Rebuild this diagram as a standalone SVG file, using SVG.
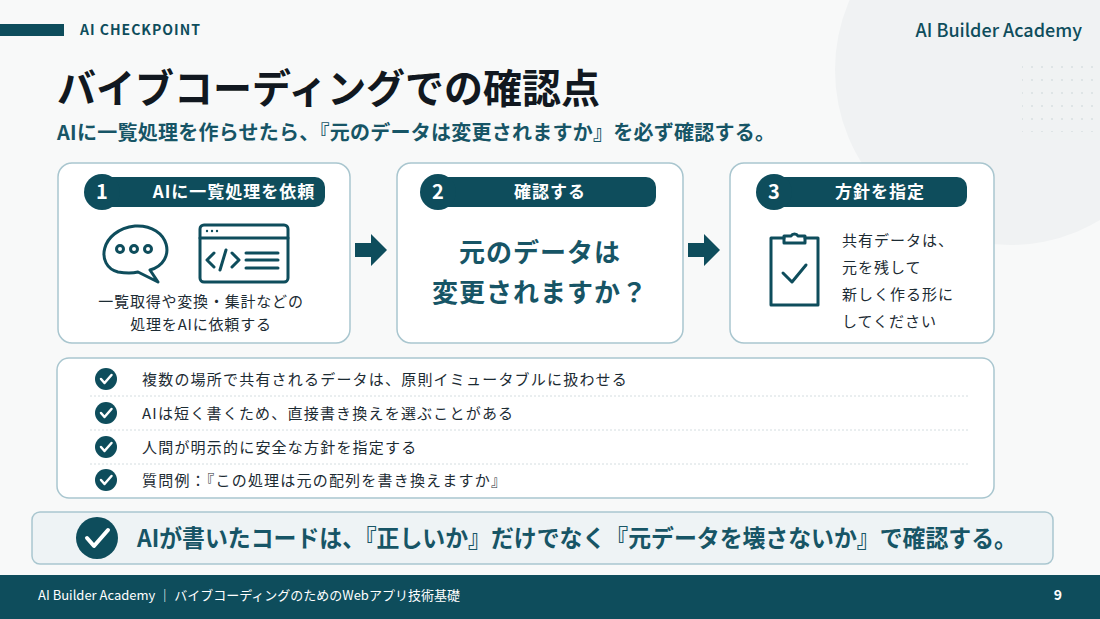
<svg xmlns="http://www.w3.org/2000/svg" width="1100" height="619" viewBox="0 0 1100 619">
<defs>
<style>
text{font-family:"Noto Sans CJK JP","Noto Sans",sans-serif}
.card{fill:#fff;stroke:#a9c6cf;stroke-width:1.5}
.teal{fill:#0e4d5c}
.hd{fill:#fff;font-size:17px;font-weight:bold;text-anchor:middle;letter-spacing:1px}
.num{fill:#fff;font-size:20px;font-weight:bold;text-anchor:middle}
.ic{fill:none;stroke:#0e4d5c;stroke-width:3;stroke-linecap:round;stroke-linejoin:round}
.body{fill:#1c2b33;font-size:15px}
.sep{stroke:#d4dde0;stroke-width:1;stroke-dasharray:2 2}
</style>
<g id="chk"><circle r="11" fill="#0e4d5c"/><path d="M-5,0 L-1.5,4 L5.5,-4" fill="none" stroke="#fff" stroke-width="2.5" stroke-linecap="round" stroke-linejoin="round"/></g>
<pattern id="dots" width="10" height="13" patternUnits="userSpaceOnUse"><circle cx="2" cy="2" r="1" fill="#d8dfe2"/></pattern>
</defs>
<rect width="1100" height="619" fill="#f8f9f9"/>
<circle cx="1010" cy="70" r="175" fill="#f0f2f3"/>
<rect x="1022" y="62" width="72" height="70" fill="url(#dots)"/>
<rect x="0" y="24" width="64" height="12" class="teal"/>
<text x="80" y="35" font-size="14" font-weight="bold" fill="#0e4d5c" letter-spacing="1">AI CHECKPOINT</text>
<text x="1082" y="37" font-size="18" fill="#0e4d5c" text-anchor="end" font-weight="500">AI Builder Academy</text>
<text x="57" y="103" font-size="40" font-weight="bold" fill="#111820" textLength="543" lengthAdjust="spacingAndGlyphs">バイブコーディングでの確認点</text>
<text x="57" y="140" font-size="20" font-weight="bold" fill="#175566" textLength="718" lengthAdjust="spacing">AIに一覧処理を作らせたら、『元のデータは変更されますか』を必ず確認する。</text>

<g id="card1">
<rect x="58" y="163" width="292" height="180" rx="14" class="card"/>
<rect x="90" y="177" width="235" height="30" rx="10" class="teal"/>
<circle cx="102" cy="192" r="18" class="teal"/>
<text x="102" y="199" class="num">1</text>
<text x="234" y="198" class="hd">AIに一覧処理を依頼</text>
<path class="ic" d="M118,272 C95,266 100,230 135,226 C170,224 178,262 150,270 L158,282 L138,272 C130,274 124,273 118,272 Z" stroke-width="2.5"/>
<circle cx="120" cy="249" r="3.5" class="ic" stroke-width="2.2"/><circle cx="134" cy="249" r="3.5" class="ic" stroke-width="2.2"/><circle cx="148" cy="249" r="3.5" class="ic" stroke-width="2.2"/>
<rect x="200" y="225" width="88" height="57" rx="4" class="ic" stroke-width="2.5"/>
<line x1="200" y1="238" x2="288" y2="238" class="ic" stroke-width="2"/>
<circle cx="207" cy="231" r="1.2" class="teal"/><circle cx="212" cy="231" r="1.2" class="teal"/><circle cx="217" cy="231" r="1.2" class="teal"/>
<path class="ic" stroke-width="2.2" d="M214,253 L207,260 L214,267 M226,250 L220,270 M232,253 L239,260 L232,267 M246,253 H278 M246,260 H278 M246,268 H278"/>
<text x="201" y="307" class="body" text-anchor="middle" letter-spacing="0.8">一覧取得や変換・集計などの</text>
<text x="201" y="330" class="body" text-anchor="middle" letter-spacing="0.8">処理をAIに依頼する</text>
</g>

<g id="card2">
<rect x="397" y="163" width="286" height="180" rx="14" class="card"/>
<rect x="428" y="177" width="228" height="30" rx="10" class="teal"/>
<circle cx="438" cy="192" r="18" class="teal"/>
<text x="550" y="198" class="hd">確認する</text>
<text x="438" y="199" class="num">2</text>
<text x="540" y="262" font-size="26" font-weight="bold" fill="#175566" text-anchor="middle" letter-spacing="1">元のデータは</text>
<text x="540" y="302" font-size="26" font-weight="bold" fill="#175566" text-anchor="middle" letter-spacing="1">変更されますか？</text>
</g>

<g id="card3">
<rect x="730" y="163" width="264" height="180" rx="14" class="card"/>
<rect x="764" y="177" width="203" height="30" rx="10" class="teal"/>
<circle cx="774" cy="192" r="18" class="teal"/>
<text x="774" y="199" class="num">3</text>
<text x="880" y="198" class="hd">方針を指定</text>
<path class="ic" d="M784,238 H771 V305 H818 V238 H805"/>
<path class="ic" d="M784,243 V236 H791 A4,4 0 0 1 798,236 H805 V243 Z"/>
<path class="ic" d="M783,273 L792,282 L806,265"/>
<text x="842" y="246" class="body" font-size="16" letter-spacing="1">共有データは、</text>
<text x="842" y="273" class="body" font-size="16" letter-spacing="1">元を残して</text>
<text x="842" y="300" class="body" font-size="16" letter-spacing="1">新しく作る形に</text>
<text x="842" y="327" class="body" font-size="16" letter-spacing="1">してください</text>
</g>

<g id="connectors">
<path class="teal" d="M355,243 H371 V234 L387,250 L371,266 V257 H355 Z"/>
<path class="teal" d="M688,243 H704 V234 L720,250 L704,266 V257 H688 Z"/>
</g>

<g id="checklist">
<rect x="57" y="358" width="937" height="140" rx="12" class="card"/>
<line x1="90" y1="396" x2="968" y2="396" class="sep"/>
<line x1="90" y1="430" x2="968" y2="430" class="sep"/>
<line x1="90" y1="464" x2="968" y2="464" class="sep"/>
<use href="#chk" x="106" y="379"/><text x="142" y="385" class="body" letter-spacing="1.2">複数の場所で共有されるデータは、原則イミュータブルに扱わせる</text>
<use href="#chk" x="106" y="413"/><text x="142" y="419" class="body" letter-spacing="1.2">AIは短く書くため、直接書き換えを選ぶことがある</text>
<use href="#chk" x="106" y="447"/><text x="142" y="453" class="body" letter-spacing="1.2">人間が明示的に安全な方針を指定する</text>
<use href="#chk" x="106" y="480"/><text x="142" y="486" class="body" letter-spacing="1.2">質問例：『この処理は元の配列を書き換えますか』</text>
</g>

<g id="banner">
<rect x="32" y="512" width="1021" height="52" rx="8" fill="#eef3f5" stroke="#a9c6cf" stroke-width="1.5"/>
<circle cx="97" cy="538" r="21" class="teal"/>
<path d="M87,538 L94,546 L108,530" fill="none" stroke="#fff" stroke-width="4" stroke-linecap="round" stroke-linejoin="round"/>
<text x="137" y="547" font-size="24" font-weight="bold" fill="#175566" textLength="880" lengthAdjust="spacingAndGlyphs">AIが書いたコードは、『正しいか』だけでなく『元データを壊さないか』で確認する。</text>
</g>

<rect x="0" y="575" width="1100" height="44" class="teal"/>
<text x="38" y="600" font-size="13" fill="#fff">AI Builder Academy ｜ バイブコーディングのためのWebアプリ技術基礎</text>
<text x="1062" y="600" font-size="14" fill="#fff" font-weight="bold" text-anchor="end">9</text>
</svg>
